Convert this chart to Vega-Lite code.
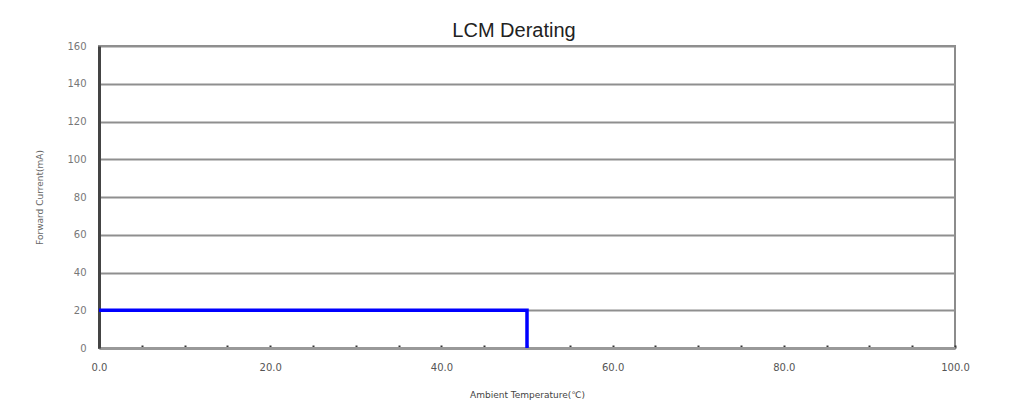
{
  "$schema": "https://vega.github.io/schema/vega-lite/v6.json",
  "width": 856,
  "height": 302,
  "autosize": {"type": "none"},
  "padding": {"left": 99, "top": 46, "right": 54, "bottom": 61},
  "background": "white",
  "title": {
    "text": "LCM Derating",
    "font": "Liberation Sans",
    "fontSize": 20,
    "fontWeight": "normal",
    "color": "#222222",
    "anchor": "middle",
    "frame": "group",
    "dx": -13,
    "dy": 24,
    "offset": 4,
    "baseline": "bottom"
  },
  "config": {
    "view": {"stroke": "#8c8c8c", "strokeWidth": 2},
    "axis": {"labelFont": "DejaVu Sans", "titleFont": "DejaVu Sans"}
  },
  "data": {
    "values": [
      {"temp": 0, "current": 20},
      {"temp": 50, "current": 20},
      {"temp": 50, "current": 0}
    ]
  },
  "mark": {"type": "line", "color": "#0000ff", "strokeWidth": 3.5, "interpolate": "linear"},
  "encoding": {
    "x": {
      "field": "temp",
      "type": "quantitative",
      "scale": {"domain": [0, 100], "nice": false, "zero": false},
      "axis": {
        "title": "Ambient Temperature(℃)",
        "titleFontSize": 9,
        "titleFontWeight": "normal",
        "titleColor": "#444444",
        "titlePadding": 18,
        "values": [0, 5, 10, 15, 20, 25, 30, 35, 40, 45, 50, 55, 60, 65, 70, 75, 80, 85, 90, 95, 100],
        "labelExpr": "datum.value % 20 === 0 ? format(datum.value, '.1f') : ''",
        "labelFontSize": 10,
        "labelColor": "#555555",
        "labelPadding": 17,
        "labelFlush": false,
        "grid": false,
        "domainColor": "#999999",
        "domainWidth": 3,
        "tickColor": "#333333",
        "tickSize": -3,
        "tickWidth": 2,
        "tickOffset": 0
      }
    },
    "y": {
      "field": "current",
      "type": "quantitative",
      "scale": {"domain": [0, 160], "nice": false},
      "axis": {
        "title": "Forward Current(mA)",
        "titleFontSize": 9,
        "titleFontWeight": "normal",
        "titleColor": "#666666",
        "titlePadding": 22,
        "values": [0, 20, 40, 60, 80, 100, 120, 140, 160],
        "labelFontSize": 10,
        "labelColor": "#777777",
        "labelPadding": 13,
        "ticks": false,
        "grid": true,
        "gridColor": "#8f8f8f",
        "gridWidth": 2,
        "domainColor": "#444444",
        "domainWidth": 3
      }
    }
  }
}
